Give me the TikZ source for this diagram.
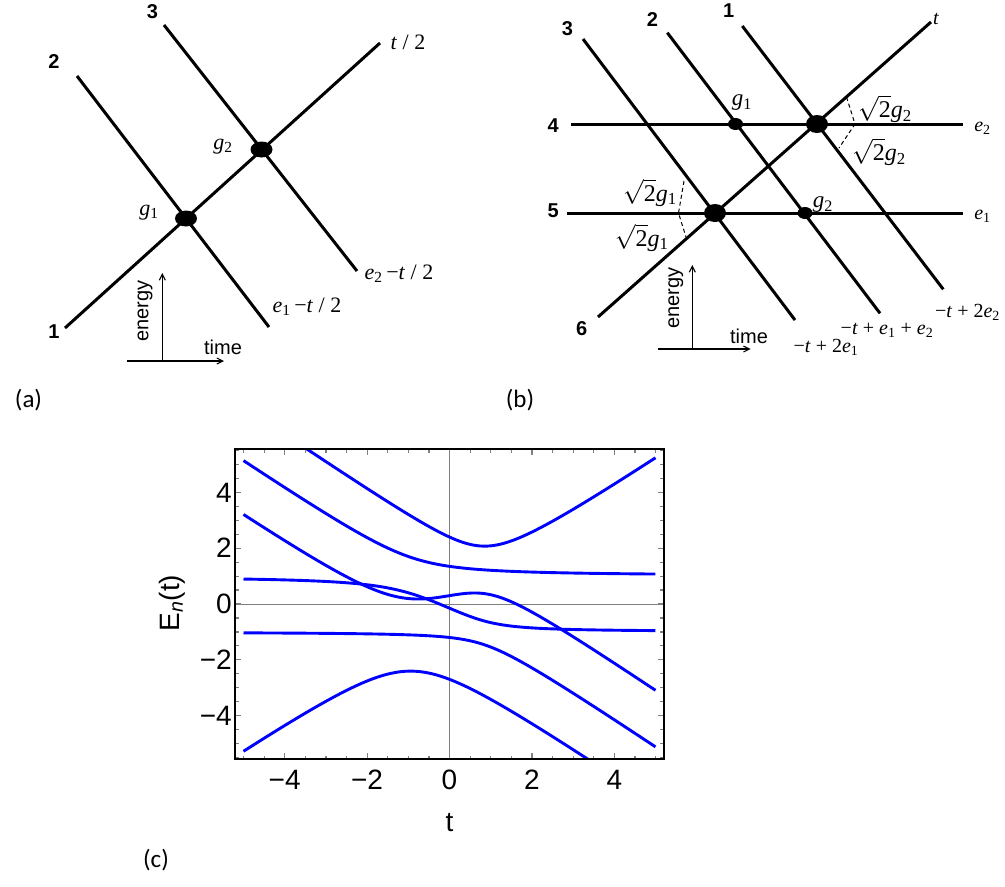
\documentclass[tikz,border=0pt]{standalone}
\usepackage{fontspec}
\setmainfont{Liberation Serif}
\newfontfamily\arialf{Liberation Sans}
\newfontfamily\calf{Carlito}
\usetikzlibrary{shapes.geometric,arrows.meta}
\newcommand\iv[1]{\textit{#1}}
\newcommand\sbs[1]{\textsubscript{#1}}
\newcommand\sqtwo{$\sqrt{\hbox{\rmfamily 2}}$}
\tikzset{
 ln/.style={line width=3pt},
 bdot/.style={ellipse, fill=black, inner sep=0pt, minimum width=22pt, minimum height=16pt},
 sdot/.style={ellipse, fill=black, inner sep=0pt, minimum width=15pt, minimum height=12pt},
 numl/.style={font=\arialf\bfseries\fontsize{20}{22}\selectfont, inner sep=0pt},
 mlab/.style={font=\fontsize{22}{26}\selectfont, inner sep=0pt},
 blab/.style={font=\fontsize{20}{24}\selectfont, inner sep=0pt},
 rlab/.style={font=\fontsize{24}{28}\selectfont, inner sep=0pt},
 axl/.style={font=\arialf\fontsize{20}{24}\selectfont, inner sep=0pt},
 axarr/.style={line width=1.1pt, -{Straight Barb[length=6pt,width=6pt]}},
 pan/.style={font=\calf\fontsize{25}{30}\selectfont, inner sep=0pt},
 tkl/.style={font=\arialf\fontsize{28}{32}\selectfont, inner sep=0pt},
 curve/.style={blue, line width=2.9pt},
 tk/.style={gray, line width=1.2pt},
 dsh/.style={line width=1pt, dash pattern=on 4pt off 3pt},
}
\begin{document}
\begin{tikzpicture}[x=1pt,y=-1pt,
 declare function={
  pp(\x)=-(\x)*(\x)/3-1.6425;
  qq(\x)=-2*(\x)*(\x)*(\x)/27+0.4525*(\x)+0.243;
  th(\x)=acos(max(-1,min(1,1.5*qq(\x)/pp(\x)*sqrt(-3/pp(\x)))));
  L(\x,\k)=2*sqrt(-pp(\x)/3)*cos(th(\x)/3-120*(\k))-(\x)/6;
 }]
\useasboundingbox (0,0) rectangle (1005,887);

% ---------------- panel (a)
\coordinate (a1s) at (65,328);  \coordinate (a1e) at (380,43);
\coordinate (a2s) at (77,76);   \coordinate (a2e) at (269,327);
\coordinate (a3s) at (164,25);  \coordinate (a3e) at (357,271);
\draw[ln] (a1s) -- (a1e);
\draw[ln] (a2s) -- (a2e);
\draw[ln] (a3s) -- (a3e);
\node[bdot] (ga1) at (186,218.5) {};
\node[bdot] (ga2) at (261.5,149.5) {};
\node[numl] (na3) at (152.5,11.7) {3};
\node[numl] (na2) at (54,61.7) {2};
\node[numl] (na1) at (54,331.7) {1};
\node[mlab] (lt2) at (408,42) {\iv{t} / 2};
\node[mlab] (lg2) at (223,147) {\iv{g}\sbs{2}};
\node[mlab] (lg1) at (149,213) {\iv{g}\sbs{1}};
\node[mlab] (le2) at (399,274) {\iv{e}\sbs{2}\,−\iv{t} / 2};
\node[mlab] (le1) at (307,307) {\iv{e}\sbs{1}\,−\iv{t} / 2};
\coordinate (aao) at (162.3,361); \coordinate (aay) at (162.3,273);
\coordinate (aaxs) at (126.7,361); \coordinate (aaxe) at (224,361);
\draw[axarr] (aao) -- (aay);
\draw[axarr] (aaxs) -- (aaxe);
\node[axl, rotate=90] (aen) at (145,311) {energy};
\node[axl] (ati) at (223,347) {time};
\node[pan] (pa) at (28.5,400) {(a)};

% ---------------- panel (b)
\coordinate (b4s) at (571,124); \coordinate (b4e) at (963,124);
\coordinate (b5s) at (567,213); \coordinate (b5e) at (963,213);
\coordinate (b6s) at (598,317); \coordinate (b6e) at (931,22);
\coordinate (b3s) at (583,39);  \coordinate (b3e) at (795,320);
\coordinate (b2s) at (667.3,32.7); \coordinate (b2e) at (880,313.3);
\coordinate (b1s) at (742.3,26); \coordinate (b1e) at (943.3,289.3);
\draw[ln] (b4s) -- (b4e);
\draw[ln] (b5s) -- (b5e);
\draw[ln] (b6s) -- (b6e);
\draw[ln] (b3s) -- (b3e);
\draw[ln] (b2s) -- (b2e);
\draw[ln] (b1s) -- (b1e);
\node[bdot, minimum height=18pt] (B1) at (817,124) {};
\node[bdot, minimum height=18pt] (B2) at (715,213) {};
\node[sdot] (sg1) at (735.5,124) {};
\node[sdot] (sg2) at (805,213) {};
\node[numl] (nb3) at (567.5,28.3) {3};
\node[numl] (nb2) at (652.5,20) {2};
\node[numl] (nb1) at (728.7,10.7) {1};
\node[numl] (nb4) at (553.3,126) {4};
\node[numl] (nb5) at (553.3,210.7) {5};
\node[numl] (nb6) at (581.7,328.3) {6};
\node[blab] (lbt) at (936,19) {\iv{t}};
\node[blab] (lbe2) at (982.5,128) {\iv{e}\sbs{2}};
\node[blab] (lbe1) at (982.5,216) {\iv{e}\sbs{1}};
\node[mlab, font=\fontsize{23}{26}\selectfont] (lbg1) at (742,102.5) {\iv{g}\sbs{1}};
\node[mlab, font=\fontsize{23}{26}\selectfont] (lbg2) at (823,205) {\iv{g}\sbs{2}};
\node[rlab] (r2a) at (885,109) {\sqtwo\iv{g}\sbs{2}};
\node[rlab] (r2b) at (879,152) {\sqtwo\iv{g}\sbs{2}};
\node[rlab] (r1a) at (650,192.5) {\sqtwo\iv{g}\sbs{1}};
\node[rlab] (r1b) at (641.7,237.5) {\sqtwo\iv{g}\sbs{1}};
\coordinate (d1a) at (846.5,97); \coordinate (d1b) at (855,124); \coordinate (d1c) at (839,148);
\draw[dsh] (d1a) -- (d1b) -- (d1c);
\coordinate (d2a) at (684,181); \coordinate (d2b) at (678.5,213); \coordinate (d2c) at (686,237);
\draw[dsh] (d2a) -- (d2b) -- (d2c);
\node[blab] (lm2) at (967.5,312) {−\iv{t} + 2\iv{e}\sbs{2}};
\node[blab] (lm12) at (887,330) {−\iv{t} + \iv{e}\sbs{1} + \iv{e}\sbs{2}};
\node[blab] (lm1) at (826,347.5) {−\iv{t} + 2\iv{e}\sbs{1}};
\coordinate (bao) at (692.3,349); \coordinate (bay) at (692.3,265);
\coordinate (baxs) at (658.3,349); \coordinate (baxe) at (750.7,349);
\draw[axarr] (bao) -- (bay);
\draw[axarr] (baxs) -- (baxe);
\node[axl, rotate=90] (ben) at (675.8,298.3) {energy};
\node[axl] (bti) at (749,336.7) {time};
\node[pan] (pb) at (520,400) {(b)};

% ---------------- panel (c)
\draw[gray, line width=0.8pt] (449.5,448.9) -- (449.5,759.1);
\draw[gray, line width=0.8pt] (235.3,604) -- (663.7,604);
\begin{scope}
\clip (235.3,448.9) rectangle (663.7,759.1);
\begin{scope}[shift={(449.5,604)},x=41.2pt,y=27.9pt]
\foreach \ka/\kb in {0/0,0/1,0/2,1/1,1/2,2/2}{
  \draw[curve] plot[domain=-5:5,samples=121,smooth] (\x,{L(\x,\ka)+L(\x,\kb)});
}
\end{scope}
\end{scope}
% ticks
\foreach \v in {-5,-4.5,...,5.1}{
  \pgfmathsetmacro\px{449.5+41.2*\v}
  \draw[tk] (\px,759.1) -- (\px,755.5);
  \draw[tk] (\px,448.9) -- (\px,452.5);
}
\foreach \v in {-5.5,-5,...,5.6}{
  \pgfmathsetmacro\py{604-27.9*\v}
  \draw[tk] (235.3,\py) -- (238.9,\py);
  \draw[tk] (663.7,\py) -- (660.1,\py);
}
\foreach \v in {-4,-2,...,4}{
  \pgfmathsetmacro\px{449.5+41.2*\v}
  \pgfmathsetmacro\py{604-27.9*\v}
  \draw[tk] (\px,759.1) -- (\px,753);
  \draw[tk] (\px,448.9) -- (\px,455);
  \draw[tk] (235.3,\py) -- (241.4,\py);
  \draw[tk] (663.7,\py) -- (657.6,\py);
}
\draw[line width=1.8pt] (235.3,448.9) rectangle (663.7,759.1);
\node[tkl, anchor=east] (y4) at (232,493) {4};
\node[tkl, anchor=east] (y2) at (232,548) {2};
\node[tkl, anchor=east] (y0) at (232,604) {0};
\node[tkl, anchor=east] (ym2) at (232,660) {−2};
\node[tkl, anchor=east] (ym4) at (232,716) {−4};
\node[tkl] (xm4) at (284.7,780) {−4};
\node[tkl] (xm2) at (367.1,780) {−2};
\node[tkl] (x0) at (449.5,780) {0};
\node[tkl] (x2) at (531.9,780) {2};
\node[tkl] (x4) at (614.3,780) {4};
\node[tkl] (xt) at (449.5,823) {t};
\node[tkl, rotate=90] (yl) at (172,603) {E\textsubscript{\textit{n}}(t)};
\node[pan] (pc) at (156,860) {(c)};
\end{tikzpicture}
\end{document}
